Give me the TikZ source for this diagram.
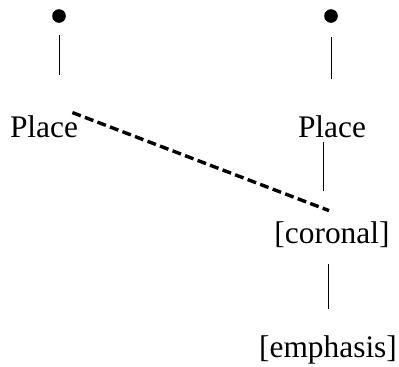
\documentclass[tikz,border=0pt]{standalone}
\usepackage{fontspec}
\setmainfont{Liberation Serif}
\usetikzlibrary{positioning}

\begin{document}
\begin{tikzpicture}[x=0.5pt, y=-0.5pt,
    feat/.style={inner sep=0pt, font=\fontsize{15.7}{18}\selectfont},
    root/.style={circle, fill=black, inner sep=0pt, minimum size=6.8pt},
    stem/.style={line width=0.5pt},
    spread/.style={line width=1.7pt, dash pattern=on 4.5pt off 2.2pt}]
    \useasboundingbox (0,0) rectangle (399,366);

    % Root nodes
    \node[root] (dotL) at (59,16) {};
    \node[root] (dotR) at (331,16) {};

    % Features
    \node[feat] (placeL) at (44,127) {Place};
    \node[feat] (placeR) at (332,127) {Place};
    \node[feat] (coronal) at (332,235) {[coronal]};
    \node[feat] (emph) at (328,350) {[emphasis]};

    % Association lines
    \draw[stem, shorten <=6pt, shorten >=20.5pt] (dotL) -- (dotL |- placeL.north);
    \draw[stem, shorten <=7pt, shorten >=18.5pt] (dotR) -- (dotR |- placeR.north);
    \draw[stem, shorten <=2pt, shorten >=15.5pt]
        ([xshift=-4.5pt]placeR.south) -- ([xshift=-4.5pt]placeR.south |- coronal.north);
    \draw[stem, shorten <=8pt, shorten >=13pt]
        ([xshift=-2pt]coronal.south) -- ([xshift=-2pt]coronal.south |- emph.north);

    % Spreading
    \draw[spread] ([shift={(-3pt,1.5pt)}]placeL.north east) -- ([shift={(-1.5pt,5.5pt)}]coronal.north);
\end{tikzpicture}
\end{document}
